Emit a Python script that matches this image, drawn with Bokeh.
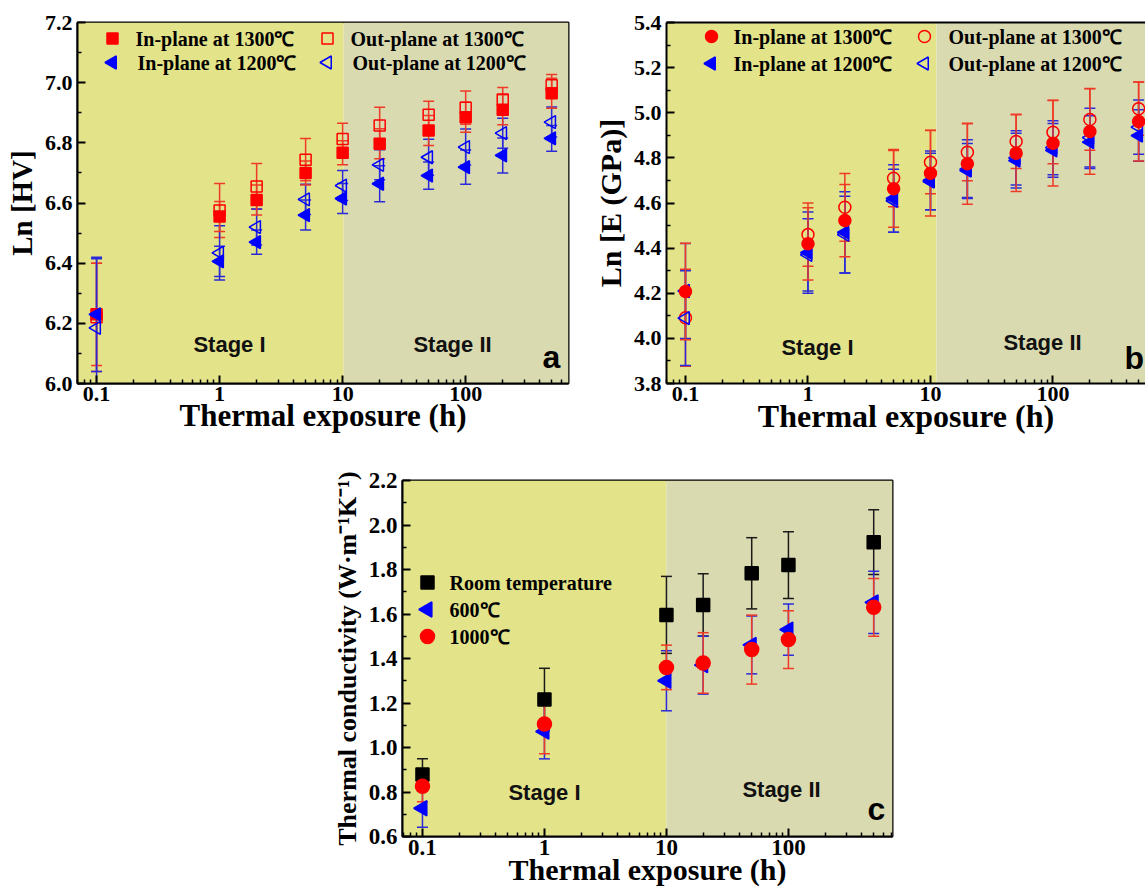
import math
import numpy as np
from bokeh.plotting import figure
from bokeh.models import (ColumnDataSource, Whisker, TeeHead, BoxAnnotation, Label,
                          FixedTicker, LinearAxis, Range1d, PrintfTickFormatter,
                          CustomJSTickFormatter, Spacer)
from bokeh.layouts import column, row
from bokeh.embed import file_html
from bokeh.resources import INLINE

# ---------------- data ----------------
hours_ab = [0.1, 1, 2, 5, 10, 20, 50, 100, 200, 500]
hours_c = [0.1, 1, 10, 20, 50, 100, 500]

# (a) Ln[HV]
hv_in_1300 = [6.23, 6.555, 6.61, 6.70, 6.767, 6.797, 6.841, 6.885, 6.91, 6.965]
hv_in_1300_err = [0.17, 0.05, 0.05, 0.04, 0.04, 0.05, 0.05, 0.05, 0.05, 0.05]
hv_out_1300 = [6.22, 6.575, 6.655, 6.744, 6.813, 6.858, 6.893, 6.917, 6.944, 6.991]
hv_out_1300_err = [0.18, 0.09, 0.076, 0.07, 0.052, 0.06, 0.045, 0.055, 0.04, 0.036]
hv_in_1200 = [6.23, 6.406, 6.47, 6.56, 6.615, 6.664, 6.691, 6.719, 6.758, 6.815]
hv_in_1200_err = [0.19, 0.05, 0.04, 0.05, 0.05, 0.06, 0.045, 0.057, 0.058, 0.043]
hv_out_1200 = [6.185, 6.434, 6.52, 6.612, 6.658, 6.727, 6.752, 6.786, 6.832, 6.869]
hv_out_1200_err = [0.23, 0.09, 0.06, 0.05, 0.05, 0.05, 0.06, 0.06, 0.05, 0.05]

# (b) Ln[E (GPa)]
e_in_1300 = [4.208, 4.419, 4.522, 4.663, 4.732, 4.774, 4.821, 4.865, 4.917, 4.961]
e_in_1300_err = [0.214, 0.16, 0.16, 0.17, 0.19, 0.18, 0.17, 0.19, 0.19, 0.175]
e_out_1300 = [4.091, 4.46, 4.581, 4.71, 4.781, 4.825, 4.873, 4.914, 4.97, 5.018]
e_out_1300_err = [0.215, 0.14, 0.15, 0.127, 0.14, 0.126, 0.12, 0.14, 0.136, 0.118]
e_in_1200 = [4.21, 4.38, 4.47, 4.62, 4.695, 4.744, 4.788, 4.833, 4.87, 4.899]
e_in_1200_err = [0.21, 0.18, 0.18, 0.15, 0.125, 0.12, 0.121, 0.119, 0.117, 0.114]
e_out_1200 = [4.09, 4.37, 4.46, 4.61, 4.70, 4.75, 4.80, 4.845, 4.89, 4.936]
e_out_1200_err = [0.21, 0.16, 0.17, 0.14, 0.13, 0.13, 0.12, 0.12, 0.13, 0.12]

# (c) thermal conductivity
tc_rt = [0.879, 1.216, 1.596, 1.641, 1.783, 1.82, 1.923]
tc_rt_err = [0.07, 0.14, 0.173, 0.14, 0.16, 0.15, 0.145]
tc_600 = [0.727, 1.072, 1.30, 1.37, 1.461, 1.53, 1.652]
tc_600_err = [0.085, 0.123, 0.135, 0.13, 0.13, 0.115, 0.14]
tc_1000 = [0.826, 1.106, 1.36, 1.38, 1.44, 1.485, 1.63]
tc_1000_err = [0.07, 0.134, 0.10, 0.136, 0.155, 0.13, 0.13]

# ---------------- style ----------------
SERIF = "Liberation Serif"
SANS = "Liberation Sans"
STAGE1 = "#e3e38a"
STAGE2 = "#dadab0"
RED = "#ff0000"
BLUE = "#0000ff"
RED_BAR = "#ee3a26"
BLUE_BAR = "#2a2ad8"
BLACK = "#000000"
TRI = np.pi / 2  # triangles point to the left
X_TITLE = "Thermal exposure (h)"


def log_minor(lo, hi):
    vals = []
    for e in range(-2, 4):
        for m in range(2, 10):
            v = m * 10.0 ** e
            if lo <= v <= hi:
                vals.append(v)
    return vals


class Panel:
    """A log-x panel with stage shading, error bars and a hand-placed key."""

    def __init__(self, width, height, borders, x_start, x_end, y_lo, y_hi, ylabel,
                 tick_size, ytitle_size, xtitle_size, stage_split, open_right=False,
                 xlab_standoff=3, xtitle_standoff=-6):
        left, right, top, bottom = borders
        self.x0, self.x1, self.y0, self.y1 = x_start, x_end, y_lo, y_hi
        self.fw = width - left - right
        self.fh = height - top - bottom
        p = figure(width=width, height=height, x_axis_type="log",
                   x_range=Range1d(x_start, x_end), y_range=Range1d(y_lo, y_hi),
                   output_backend="svg", toolbar_location=None,
                   min_border_left=left, min_border_right=right,
                   min_border_top=top, min_border_bottom=bottom,
                   background_fill_color="white", border_fill_color="white")
        p.grid.visible = False
        self.p = p

        p.add_layout(BoxAnnotation(right=stage_split, fill_color=STAGE1, fill_alpha=1,
                                   line_color=None, level="image"))
        p.add_layout(BoxAnnotation(left=stage_split, fill_color=STAGE2, fill_alpha=1,
                                   line_color=None, level="image"))

        xa = p.below[0]
        ya = p.left[0]
        xa.ticker = FixedTicker(ticks=[0.1, 1, 10, 100], minor_ticks=log_minor(x_start, x_end))
        xa.formatter = CustomJSTickFormatter(
            code="return tick < 1 ? tick.toFixed(1) : tick.toFixed(0);")
        xa.axis_label = X_TITLE
        xa.axis_label_text_font_size = f"{xtitle_size}px"
        xa.axis_label_standoff = xtitle_standoff
        xa.major_label_standoff = xlab_standoff

        step = 0.2
        n = int(round((y_hi - y_lo) / step))
        majors = [round(y_lo + i * step, 3) for i in range(n + 1)]
        minors = [round(y_lo + (i + 0.5) * step, 3) for i in range(n)]
        ya.ticker = FixedTicker(ticks=majors, minor_ticks=minors)
        ya.formatter = PrintfTickFormatter(format="%.1f")
        ya.axis_label = ylabel
        ya.axis_label_text_font_size = f"{ytitle_size}px"
        ya.major_label_standoff = 5
        ya.axis_label_standoff = 4

        for ax in (xa, ya):
            ax.axis_line_width = 2
            ax.axis_line_color = "black"
            ax.major_tick_in = 8
            ax.major_tick_out = 0
            ax.minor_tick_in = 4
            ax.minor_tick_out = 0
            ax.major_tick_line_width = 2
            ax.minor_tick_line_width = 1.5
            ax.major_tick_line_color = "black"
            ax.minor_tick_line_color = "black"
            ax.major_label_text_font = SERIF
            ax.major_label_text_font_style = "bold"
            ax.major_label_text_font_size = f"{tick_size}px"
            ax.major_label_text_color = "black"
            ax.axis_label_text_font = SERIF
            ax.axis_label_text_font_style = "bold"
            ax.axis_label_text_color = "black"

        if open_right:
            # frame continues past the page edge: only a top rule, no right rule
            p.outline_line_color = None
            top_axis = LinearAxis(ticker=FixedTicker(ticks=[]), major_label_standoff=0,
                                  major_label_text_font_size="0px",
                                  major_tick_line_color=None, minor_tick_line_color=None,
                                  axis_line_width=2, axis_line_color="black")
            p.add_layout(top_axis, "above")
        else:
            p.outline_line_color = "black"
            p.outline_line_width = 2
            p.outline_line_alpha = 1

    def at(self, fx, fy):
        """Data position of a point given in pixels from the frame's top-left corner."""
        lx0, lx1 = math.log10(self.x0), math.log10(self.x1)
        x = 10 ** (lx0 + fx / self.fw * (lx1 - lx0))
        y = self.y1 - fy / self.fh * (self.y1 - self.y0)
        return x, y

    def series(self, x, y, err, bar_color, marker, size, fill, line, angle=0.0):
        src = ColumnDataSource(dict(x=x, y=y,
                                    lower=[v - e for v, e in zip(y, err)],
                                    upper=[v + e for v, e in zip(y, err)]))
        self.p.add_layout(Whisker(source=src, base="x", lower="lower", upper="upper",
                                  line_color=bar_color, line_width=1.5,
                                  upper_head=TeeHead(size=11, line_color=bar_color, line_width=1.5),
                                  lower_head=TeeHead(size=11, line_color=bar_color, line_width=1.5)))
        self.p.scatter("x", "y", source=src, marker=marker, size=size, angle=angle,
                       fill_color=fill, line_color=line, line_width=1.5)

    def key(self, fx, fy, text_dx, label, marker, size, fill, line, angle=0.0):
        mx, my = self.at(fx, fy)
        self.p.scatter([mx], [my], marker=marker, size=size, angle=angle,
                       fill_color=fill, line_color=line, line_width=1.5)
        tx, ty = self.at(fx + text_dx, fy)
        self.p.add_layout(Label(x=tx, y=ty, text=label, text_font=SERIF,
                                text_font_style="bold", text_font_size="20px",
                                text_align="left", text_baseline="middle",
                                text_color="black"))

    def stage(self, fx, fy, text):
        x, y = self.at(fx, fy)
        self.p.add_layout(Label(x=x, y=y, text=text, text_font=SANS, text_font_style="bold",
                                text_font_size="22px", text_align="center",
                                text_baseline="middle", text_color="#111111"))

    def letter(self, fx, fy, text):
        x, y = self.at(fx, fy)
        self.p.add_layout(Label(x=x, y=y, text=text, text_font=SANS, text_font_style="bold",
                                text_font_size="32px", text_align="left",
                                text_baseline="bottom", text_color="black"))


# ---------------- (a) hardness ----------------
A = Panel(570, 445, (77, 2, 22, 62), 0.07, 685, 6.0, 7.2, "Ln [HV]", 22, 29, 31, 10.2)
A.series(hours_ab, hv_out_1300, hv_out_1300_err, RED_BAR, "square", 11, None, RED)
A.series(hours_ab, hv_out_1200, hv_out_1200_err, BLUE_BAR, "triangle", 13, None, BLUE, TRI)
A.series(hours_ab, hv_in_1300, hv_in_1300_err, RED_BAR, "square", 11, RED, RED)
A.series(hours_ab, hv_in_1200, hv_in_1200_err, BLUE_BAR, "triangle", 13, BLUE, BLUE, TRI)
A.key(35, 16, 23, "In-plane at 1300℃", "square", 11, RED, RED)
A.key(35, 40, 25, "In-plane at 1200℃", "triangle", 13, BLUE, BLUE, TRI)
A.key(250, 16, 23, "Out-plane at 1300℃", "square", 11, None, RED)
A.key(250, 40, 25, "Out-plane at 1200℃", "triangle", 13, None, BLUE, TRI)
A.stage(152, 322, "Stage I")
A.stage(375, 322, "Stage II")
A.letter(465, 352, "a")

# ---------------- (b) modulus ----------------
B = Panel(575, 445, (96, 0, 22, 62), 0.07, 569, 3.8, 5.4, "Ln [E (GPa)]", 22, 30, 32, 11.2,
          open_right=True)
B.series(hours_ab, e_out_1300, e_out_1300_err, RED_BAR, "circle", 12, None, RED)
B.series(hours_ab, e_out_1200, e_out_1200_err, BLUE_BAR, "triangle", 13, None, BLUE, TRI)
B.series(hours_ab, e_in_1200, e_in_1200_err, BLUE_BAR, "triangle", 13, BLUE, BLUE, TRI)
B.series(hours_ab, e_in_1300, e_in_1300_err, RED_BAR, "circle", 12, RED, RED)
B.key(45, 14, 22, "In-plane at 1300℃", "circle", 12, RED, RED)
B.key(45, 41, 22, "In-plane at 1200℃", "triangle", 13, BLUE, BLUE, TRI)
B.key(258, 14, 24, "Out-plane at 1300℃", "circle", 12, None, RED)
B.key(258, 41, 24, "Out-plane at 1200℃", "triangle", 13, None, BLUE, TRI)
B.stage(151, 325, "Stage I")
B.stage(376, 320, "Stage II")
B.letter(458, 353, "b")

# ---------------- (c) thermal conductivity ----------------
C = Panel(600, 447, (102, 8, 35, 56), 0.0686, 713, 0.6, 2.2,
          "Thermal conductivity (W·m⁻¹K⁻¹)", 23, 26, 30, 10.0,
          xlab_standoff=3, xtitle_standoff=-5)
C.series(hours_c, tc_rt, tc_rt_err, "#1a1a1a", "square", 13, BLACK, BLACK)
C.series(hours_c, tc_600, tc_600_err, BLUE_BAR, "triangle", 15, BLUE, BLUE, TRI)
C.series(hours_c, tc_1000, tc_1000_err, RED_BAR, "circle", 14, RED, RED)
C.key(25, 102, 22, "Room temperature", "square", 13, BLACK, BLACK)
C.key(25, 129, 22, "600℃", "triangle", 15, BLUE, BLUE, TRI)
C.key(25, 156, 22, "1000℃", "circle", 14, RED, RED)
C.stage(142, 312, "Stage I")
C.stage(379, 309, "Stage II")
C.letter(465, 346, "c")

layout = column(row(A.p, B.p), row(Spacer(width=300, height=447), C.p))

with open("out.html", "w") as f:
    f.write(file_html(layout, INLINE))
